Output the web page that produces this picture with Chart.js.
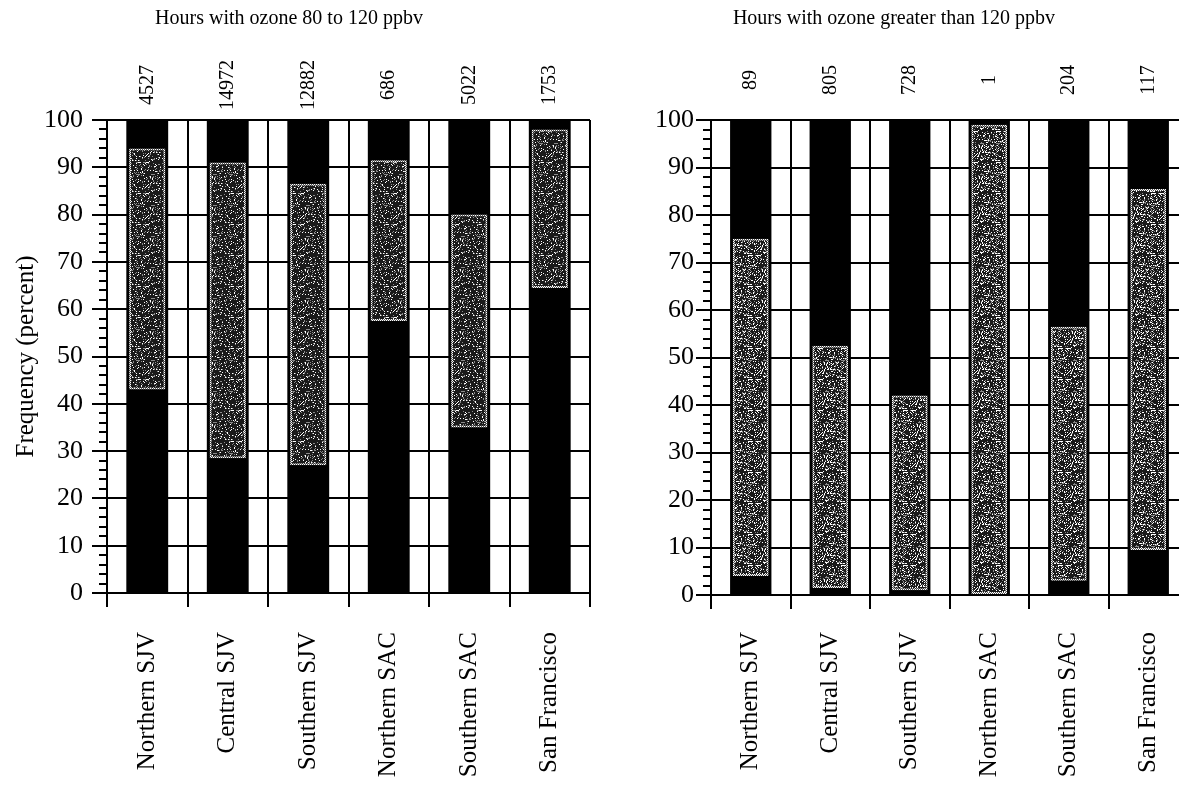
<!DOCTYPE html>
<html>
<head>
<meta charset="utf-8">
<script src="https://cdn.jsdelivr.net/npm/chart.js@4.4.1/dist/chart.umd.min.js"></script>
<style>
  html, body { margin: 0; padding: 0; background: #fff; width: 1179px; height: 793px; overflow: hidden; position: relative; }
  #moderate { position: absolute; left: -12px; top: 0; }
  #high { position: absolute; left: 600px; top: 0; }
</style>
</head>
<body>
<canvas id="moderate" width="604" height="793"></canvas>
<canvas id="high" width="600" height="793"></canvas>
<script>
// Monitoring regions (shared by both panels)
const regions = ['Northern SJV', 'Central SJV', 'Southern SJV', 'Northern SAC', 'Southern SAC', 'San Francisco'];

// Number of hours in each ozone class
const hoursModerate = [4527, 14972, 12882, 686, 5022, 1753];
const hoursHigh = [89, 805, 728, 1, 204, 117];

// Shaded band (percent): lower and upper edge for 80-120 ppbv hours
const moderateLow = [43, 28.5, 27, 57.5, 35, 64.5];
const moderateHigh = [94, 91, 86.5, 91.5, 80, 98];

// Shaded band (percent): lower and upper edge for >120 ppbv hours
const highLow = [4, 1.5, 1, 0, 3, 9.5];
const highHigh = [75, 52.5, 42, 99, 56.5, 85.5];

// Every column spans the full frequency range
const columnTotal = [100, 100, 100, 100, 100, 100];

const SERIF = "'Liberation Serif', 'Times New Roman', serif";

// Irregular speckled tile used as the shaded band fill
function speckleTile(size, whiteCut, greyCut) {
  const c = document.createElement('canvas');
  c.width = size; c.height = size;
  const g = c.getContext('2d');
  g.fillStyle = '#1a1a1a';
  g.fillRect(0, 0, size, size);
  for (let x = 0; x < size; x++) {
    for (let y = 0; y < size; y++) {
      const h = (x * 37 + y * 71 + x * y * 13 + (x ^ y) * 5) % 31;
      if (h < whiteCut) g.fillStyle = '#ffffff';
      else if (h < whiteCut + greyCut) g.fillStyle = '#8a8a8a';
      else continue;
      g.fillRect(x, y, 1, 1);
    }
  }
  return c;
}

// Two-pixel checker tile for the dotted outline of the band
function dotTile() {
  const c = document.createElement('canvas');
  c.width = 2; c.height = 2;
  const g = c.getContext('2d');
  g.fillStyle = '#555';
  g.fillRect(0, 0, 2, 2);
  g.fillStyle = '#fff';
  g.fillRect(0, 0, 1, 1);
  g.fillRect(1, 1, 1, 1);
  return c;
}

// Minor y ticks and the hour counts above each column
const axisDecor = {
  id: 'axisDecor',
  afterDraw(chart, args, opts) {
    const { ctx, chartArea, scales: { x, y } } = chart;
    ctx.save();
    ctx.strokeStyle = '#000';
    ctx.lineWidth = 2;
    for (let v = y.min + opts.minorStep; v < y.max; v += opts.minorStep) {
      if (v % 10 === 0) continue;
      const py = Math.round(y.getPixelForValue(v));
      ctx.beginPath();
      ctx.moveTo(chartArea.left - opts.minorLength, py);
      ctx.lineTo(chartArea.left, py);
      ctx.stroke();
    }
    ctx.fillStyle = '#000';
    ctx.font = '20px ' + SERIF;
    ctx.textAlign = 'center';
    ctx.textBaseline = 'middle';
    opts.values.forEach((val, i) => {
      const px = x.getPixelForValue(i);
      ctx.save();
      ctx.translate(px, opts.countY);
      ctx.rotate(-Math.PI / 2);
      ctx.fillText(String(val), 0, 0);
      ctx.restore();
    });
    ctx.restore();
  }
};

function buildPanel(id, cfg) {
  const ctx = document.getElementById(id).getContext('2d');
  const fill = ctx.createPattern(speckleTile(31, cfg.whiteCut, cfg.greyCut), 'repeat');
  const edge = ctx.createPattern(dotTile(), 'repeat');
  return new Chart(ctx, {
    type: 'bar',
    data: {
      labels: regions,
      datasets: [
        {
          label: 'band',
          data: cfg.low.map((v, i) => [v, cfg.high[i]]),
          backgroundColor: fill,
          borderColor: edge,
          borderWidth: 2,
          borderSkipped: false,
          grouped: false,
          order: 0,
          categoryPercentage: 1,
          barPercentage: 0.45
        },
        {
          label: 'column',
          data: columnTotal,
          backgroundColor: '#000',
          borderWidth: 0,
          grouped: false,
          order: 1,
          categoryPercentage: 1,
          barPercentage: 0.52
        }
      ]
    },
    options: {
      responsive: false,
      animation: false,
      devicePixelRatio: 1,
      layout: { padding: { left: 0, right: cfg.padRight, top: 0, bottom: 0 } },
      plugins: {
        legend: { display: false },
        tooltip: { enabled: false },
        title: {
          display: true,
          text: cfg.title,
          color: '#000',
          font: { family: SERIF, size: 20, weight: 'normal' },
          padding: { top: 7, bottom: 89 }
        },
        axisDecor: { values: cfg.counts, countY: cfg.countY, minorStep: 2, minorLength: 8 }
      },
      scales: {
        x: {
          offset: true,
          grid: { display: true, offset: true, color: '#000', lineWidth: 2, tickLength: 14 },
          border: { color: '#000', width: 2 },
          ticks: {
            color: '#000',
            font: { family: SERIF, size: 25 },
            minRotation: 90,
            maxRotation: 90,
            autoSkip: false,
            padding: cfg.xPad
          },
          afterFit: s => {
            s.height = cfg.xHeight;
            s.paddingLeft = 0;
            s.paddingRight = 0;
          }
        },
        y: {
          min: 0,
          max: 100,
          ticks: { stepSize: 10, color: '#000', font: { family: SERIF, size: 26 }, padding: cfg.yPad },
          grid: { color: '#000', lineWidth: 2, tickLength: 15 },
          border: { color: '#000', width: 2 },
          title: {
            display: cfg.yTitle,
            text: 'Frequency (percent)',
            color: '#000',
            font: { family: SERIF, size: 25 },
            padding: { top: 23, bottom: 0 }
          },
          afterFit: s => { s.width = cfg.yWidth; }
        }
      }
    },
    plugins: [axisDecor]
  });
}

buildPanel('moderate', {
  title: 'Hours with ozone 80 to 120 ppbv',
  counts: hoursModerate,
  low: moderateLow,
  high: moderateHigh,
  whiteCut: 3,
  greyCut: 3,
  countY: 85,
  padRight: 2,
  yWidth: 119,
  yPad: 9,
  yTitle: true,
  xHeight: 200,
  xPad: 25
});

buildPanel('high', {
  title: 'Hours with ozone greater than 120 ppbv',
  counts: hoursHigh,
  low: highLow,
  high: highHigh,
  whiteCut: 5,
  greyCut: 4,
  countY: 80,
  padRight: 12,
  yWidth: 111,
  yPad: 2,
  yTitle: false,
  xHeight: 198,
  xPad: 23
});
</script>
</body>
</html>
